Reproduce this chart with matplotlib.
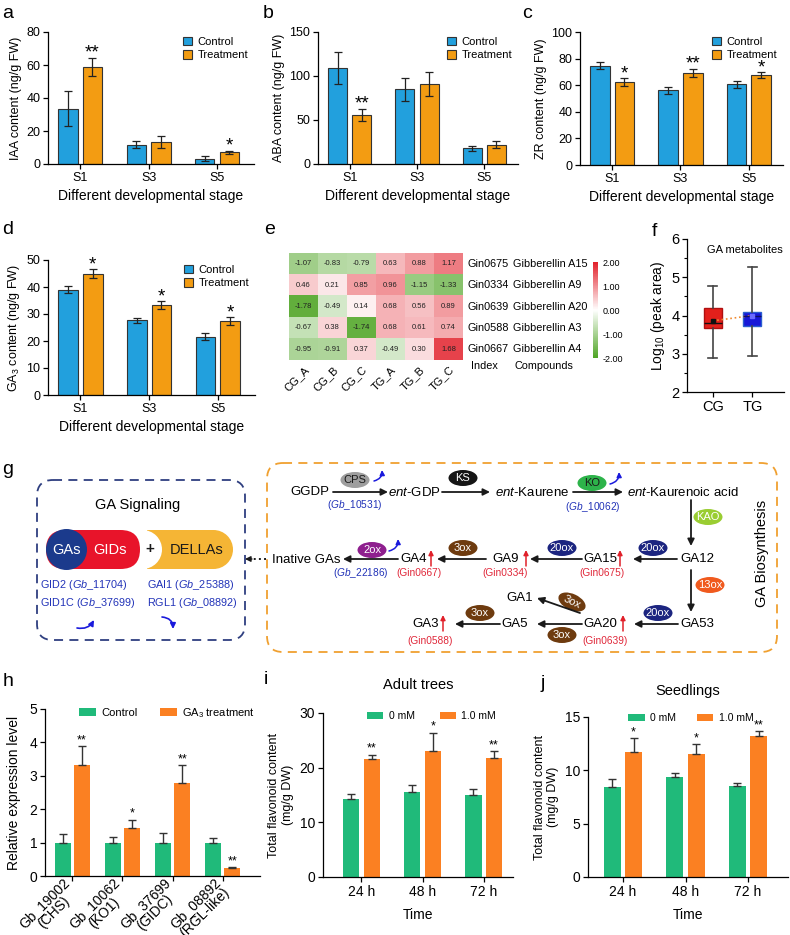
import numpy as np
import matplotlib
matplotlib.use('Agg')
import matplotlib.pyplot as plt
from matplotlib.patches import FancyBboxPatch, Ellipse, Circle, Rectangle
from matplotlib.colors import LinearSegmentedColormap

plt.rcParams['font.family'] = ['Liberation Sans', 'DejaVu Sans']
plt.rcParams['mathtext.fontset'] = 'custom'
plt.rcParams['mathtext.rm'] = 'Liberation Sans'
plt.rcParams['mathtext.it'] = 'Liberation Sans:italic'
plt.rcParams['mathtext.bf'] = 'Liberation Sans:bold'
plt.rcParams['axes.linewidth'] = 0.9

W, H = 790, 935

# ---------------- data ----------------
stages = ['S1', 'S3', 'S5']
iaa_ctrl = [33.6, 11.8, 3.3]
iaa_ctrl_err = [10.6, 2.2, 1.3]
iaa_trt = [59.0, 13.2, 7.0]
iaa_trt_err = [5.5, 3.7, 1.0]
iaa_sig = ['**', '', '*']

aba_ctrl = [109.0, 85.0, 17.8]
aba_ctrl_err = [18.0, 13.0, 2.7]
aba_trt = [56.0, 91.0, 22.0]
aba_trt_err = [7.0, 14.0, 3.8]
aba_sig = ['**', '', '']

zr_ctrl = [74.7, 56.2, 60.7]
zr_ctrl_err = [2.6, 2.5, 2.5]
zr_trt = [62.2, 69.2, 67.5]
zr_trt_err = [3.1, 3.1, 2.1]
zr_sig = ['*', '**', '*']

ga3_ctrl = [39.0, 27.6, 21.6]
ga3_ctrl_err = [1.2, 0.9, 1.3]
ga3_trt = [45.0, 33.3, 27.4]
ga3_trt_err = [1.5, 1.5, 1.5]
ga3_sig = ['*', '*', '*']

hm_cols = ['CG_A', 'CG_B', 'CG_C', 'TG_A', 'TG_B', 'TG_C']
hm_index = ['Gin0675', 'Gin0334', 'Gin0639', 'Gin0588', 'Gin0667']
hm_compounds = ['Gibberellin A15', 'Gibberellin A9', 'Gibberellin A20',
                'Gibberellin A3', 'Gibberellin A4']
hm_values = [[-1.07, -0.83, -0.79, 0.63, 0.88, 1.17],
             [0.46, 0.21, 0.85, 0.96, -1.15, -1.33],
             [-1.78, -0.49, 0.14, 0.68, 0.56, 0.89],
             [-0.67, 0.38, -1.74, 0.68, 0.61, 0.74],
             [-0.95, -0.91, 0.37, -0.49, 0.30, 1.68]]
cbar_ticks = [2, 1, 0, -1, -2]

box_groups = ['CG', 'TG']
box_whislo = [2.88, 2.93]
box_q1 = [3.68, 3.73]
box_med = [3.80, 4.00]
box_q3 = [4.20, 4.08]
box_whishi = [4.77, 5.28]
box_mean = [3.86, 4.00]

genes = ['Gb_19002\n(CHS)', 'Gb_10062\n(KO1)', 'Gb_37699\n(GIDC)', 'Gb_08892\n(RGL-like)']
gene_ctrl = [1.0, 1.0, 1.0, 1.0]
gene_ctrl_err = [0.25, 0.18, 0.28, 0.15]
gene_trt = [3.32, 1.43, 2.78, 0.25]
gene_trt_err = [0.56, 0.26, 0.54, 0.02]
gene_sig = ['**', '*', '**', '**']

times = ['24 h', '48 h', '72 h']
adult_0 = [14.2, 15.6, 15.0]
adult_0_err = [1.0, 1.3, 1.1]
adult_1 = [21.6, 23.0, 21.7]
adult_1_err = [0.8, 3.4, 1.3]
adult_sig = ['**', '*', '**']

seed_0 = [8.4, 9.35, 8.55]
seed_0_err = [0.75, 0.4, 0.25]
seed_1 = [11.75, 11.5, 13.2]
seed_1_err = [1.3, 0.95, 0.5]
seed_sig = ['*', '*', '**']

# ---------------- figure ----------------
fig = plt.figure(figsize=(W / 100, H / 100), dpi=100)


def px_axes(x0, y0, x1, y1):
    return fig.add_axes([x0 / W, 1 - y1 / H, (x1 - x0) / W, (y1 - y0) / H])


def style(ax, fs=9):
    for s in ['top', 'right']:
        ax.spines[s].set_visible(False)
    ax.tick_params(direction='out', labelsize=fs, length=3.5, width=0.9, pad=2)


C_BLUE = '#22a0dd'
C_ORANGE = '#f39c12'
C_GREEN = '#20ba7a'
C_ORG2 = '#fb8022'


def hormone_panel(ax, ctrl, ce, trt, te, sig, ylabel, ymax, step, xlim):
    x = np.arange(len(stages))
    w, off = 0.285, 0.18
    ekw = dict(elinewidth=0.9, capthick=0.9, ecolor='#222222')
    ax.bar(x - off, ctrl, w, yerr=ce, color=C_BLUE, edgecolor='#333333', lw=0.8,
           capsize=3, error_kw=ekw, label='Control')
    ax.bar(x + off, trt, w, yerr=te, color=C_ORANGE, edgecolor='#333333', lw=0.8,
           capsize=3, error_kw=ekw, label='Treatment')
    for xi, v, e, s in zip(x, trt, te, sig):
        if s:
            ax.annotate(s, (xi + off, v + e), xytext=(0, 0), textcoords='offset points',
                        ha='center', va='baseline', fontsize=13.5)
    ax.set_ylim(0, ymax)
    ax.set_yticks(np.arange(0, ymax + 0.1, step))
    ax.set_xlim(*xlim)
    ax.set_xticks(x)
    ax.set_xticklabels(stages)
    ax.set_ylabel(ylabel, fontsize=9, labelpad=3)
    ax.set_xlabel('Different developmental stage', fontsize=10, labelpad=4)
    style(ax)
    ax.legend(loc='upper right', bbox_to_anchor=(1.02, 1.04), frameon=False, fontsize=8,
              handlelength=0.8, handleheight=0.8, handletextpad=0.5, labelspacing=0.3)


ax_a = px_axes(48, 32, 254, 164)
hormone_panel(ax_a, iaa_ctrl, iaa_ctrl_err, iaa_trt, iaa_trt_err, iaa_sig,
              'IAA content (ng/g FW)', 80, 20, (-0.47, 2.54))
ax_b = px_axes(318, 32, 518, 164)
hormone_panel(ax_b, aba_ctrl, aba_ctrl_err, aba_trt, aba_trt_err, aba_sig,
              'ABA content (ng/g FW)', 150, 50, (-0.47, 2.5))
ax_c = px_axes(580, 32, 783, 165)
hormone_panel(ax_c, zr_ctrl, zr_ctrl_err, zr_trt, zr_trt_err, zr_sig,
              'ZR content (ng/g FW)', 100, 20, (-0.47, 2.5))
ax_d = px_axes(48, 260, 255, 395)
hormone_panel(ax_d, ga3_ctrl, ga3_ctrl_err, ga3_trt, ga3_trt_err, ga3_sig,
              'GA$_3$ content (ng/g FW)', 50, 10, (-0.47, 2.54))

# ---------------- heatmap e ----------------
cmap = LinearSegmentedColormap.from_list('gwr', ['#4fa525', '#ffffff', '#e2202a'])
ax_e = px_axes(289, 253, 463, 360)
vals = np.array(hm_values)
im = ax_e.imshow(vals, cmap=cmap, vmin=-2, vmax=2, aspect='auto')
for i in range(vals.shape[0]):
    for j in range(vals.shape[1]):
        ax_e.text(j, i, f'{vals[i, j]:.2f}', ha='center', va='center', fontsize=5.5,
                  color='#222222')
ax_e.set_xticks(range(len(hm_cols)))
ax_e.set_xticklabels(hm_cols, rotation=45, ha='right', rotation_mode='anchor', fontsize=8)
ax_e.set_yticks([])
ax_e.tick_params(length=0, pad=3)
for s in ax_e.spines.values():
    s.set_visible(False)
for i, (idx, comp) in enumerate(zip(hm_index, hm_compounds)):
    ax_e.text(5.64, i, idx, ha='left', va='center', fontsize=7.8)
    ax_e.text(7.22, i, comp, ha='left', va='center', fontsize=7.8)
ax_e.text(6.25, 4.8, 'Index', ha='center', va='center', fontsize=7.8)
ax_e.text(8.3, 4.8, 'Compounds', ha='center', va='center', fontsize=7.8)
cax = px_axes(593, 262, 598, 358)
cb = fig.colorbar(im, cax=cax, ticks=cbar_ticks, format='%.2f')
cb.outline.set_visible(False)
cax.tick_params(labelsize=6.5, length=0, pad=3)

# ---------------- box plot f ----------------
ax_f = px_axes(687, 239, 784, 392)
stats = []
for g, lo, q1, me, q3, hi, mn in zip(box_groups, box_whislo, box_q1, box_med, box_q3,
                                      box_whishi, box_mean):
    stats.append(dict(label=g, whislo=lo, q1=q1, med=me, q3=q3, whishi=hi, mean=mn))
bp = ax_f.bxp(stats, positions=[1, 2], widths=0.45, patch_artist=True, showmeans=True,
              showfliers=False,
              medianprops=dict(color='#111111', lw=1.0),
              meanprops=dict(marker='s', markersize=2.5, markerfacecolor='#111111',
                             markeredgecolor='#111111'),
              whiskerprops=dict(color='#444444', lw=1.2),
              capprops=dict(color='#444444', lw=1.2))
for patch, fc, ec in zip(bp['boxes'], ['#e3201b', '#1717d8'], ['#b01010', '#2a5fd0']):
    patch.set_facecolor(fc)
    patch.set_edgecolor(ec)
bp['means'][1].set_markerfacecolor('#6a6aff')
bp['means'][1].set_markeredgecolor('#6a6aff')
bp['medians'][1].set_color('#101060')
ax_f.plot([1, 2], box_mean, ls=':', color='#f08a30', lw=1.2)
ax_f.set_ylim(2, 6)
ax_f.set_yticks([2, 3, 4, 5, 6])
ax_f.set_yticks(np.arange(2.5, 6, 1), minor=True)
ax_f.set_xlim(0.35, 2.8)
ax_f.set_ylabel('Log$_{10}$ (peak area)', fontsize=10, labelpad=3)
style(ax_f, fs=10.5)
ax_f.tick_params(which='minor', length=2, width=0.8)
ax_f.text(0.6, 0.93, 'GA metabolites', transform=ax_f.transAxes, ha='center',
          va='center', fontsize=8)

# ---------------- h ----------------
ax_h = px_axes(45, 709, 260, 876)
xh = np.arange(len(genes))
w, off = 0.32, 0.19
ekw = dict(elinewidth=1.0, capthick=1.0, ecolor='#333333')
ax_h.bar(xh - off, gene_ctrl, w, yerr=[[0] * len(genes), gene_ctrl_err], color=C_GREEN,
         capsize=3, error_kw=ekw, label='Control')
ax_h.bar(xh + off, gene_trt, w, yerr=[[0] * len(genes), gene_trt_err], color=C_ORG2,
         capsize=3, error_kw=ekw, label='GA$_3$ treatment')
for xi, v, e, s in zip(xh, gene_trt, gene_trt_err, gene_sig):
    ax_h.annotate(s, (xi + off, v + e), xytext=(0, 2), textcoords='offset points',
                  ha='center', va='baseline', fontsize=9)
ax_h.set_ylim(0, 5)
ax_h.set_xlim(-0.54, 3.74)
ax_h.set_xticks(xh)
ax_h.set_xticklabels(genes, rotation=45, ha='right', va='center', rotation_mode='anchor',
                     fontsize=7.0, multialignment='center', linespacing=0.95)
ax_h.set_ylabel('Relative expression level', fontsize=10, labelpad=6)
style(ax_h, fs=10)
ax_h.tick_params(axis='x', pad=3)
ax_h.legend(loc='center left', bbox_to_anchor=(0.16, 0.975), ncol=2, frameon=False,
            fontsize=8, handlelength=1.5, handleheight=0.7, columnspacing=2.0,
            handletextpad=0.5, borderaxespad=0, borderpad=0)


def flav_panel(ax, v0, e0, v1, e1, sig, ymax, step, xlim, title, leg_x, leg_y, cs, tpad):
    x = np.arange(len(times))
    w, off = 0.27, 0.17
    ekw = dict(elinewidth=1.0, capthick=1.0, ecolor='#333333')
    ax.bar(x - off, v0, w, yerr=[[0] * len(x), e0], color=C_GREEN, capsize=3,
           error_kw=ekw, label='0 mM')
    ax.bar(x + off, v1, w, yerr=[[0] * len(x), e1], color=C_ORG2, capsize=3,
           error_kw=ekw, label='1.0 mM')
    for xi, v, e, s in zip(x, v1, e1, sig):
        ax.annotate(s, (xi + off, v + e), xytext=(0, 2), textcoords='offset points',
                    ha='center', va='baseline', fontsize=9)
    ax.set_ylim(0, ymax)
    ax.set_yticks(np.arange(0, ymax + 0.1, step))
    ax.set_xlim(*xlim)
    ax.set_xticks(x)
    ax.set_xticklabels(times)
    ax.set_xlabel('Time', fontsize=10, labelpad=7)
    ax.set_ylabel('Total flavonoid content\n(mg/g DW)', fontsize=9, labelpad=4)
    style(ax, fs=10)
    ax.set_title(title, fontsize=10.5, pad=tpad)
    ax.legend(loc='center left', bbox_to_anchor=(leg_x, leg_y), ncol=2, frameon=False,
              fontsize=7.5, handlelength=1.6, handleheight=0.7, columnspacing=cs,
              handletextpad=0.5, borderaxespad=0, borderpad=0)


ax_i = px_axes(323, 713, 513, 877)
flav_panel(ax_i, adult_0, adult_0_err, adult_1, adult_1_err, adult_sig, 30, 10,
           (-0.63, 2.48), 'Adult trees', 0.23, 0.98, 2.4, 17)
ax_j = px_axes(588, 717, 788, 877)
flav_panel(ax_j, seed_0, seed_0_err, seed_1, seed_1_err, seed_sig, 15, 5,
           (-0.56, 2.64), 'Seedlings', 0.2, 0.995, 2.0, 16)

# ---------------- overlay for g and panel letters ----------------
ov = fig.add_axes([0, 0, 1, 1])
ov.set_xlim(0, W)
ov.set_ylim(H, 0)
ov.axis('off')
ov.patch.set_visible(False)

for lab, x, y in [('a', 8, 13), ('b', 268, 13), ('c', 527, 13), ('d', 8, 230),
                  ('e', 270, 230), ('f', 654, 232), ('g', 8, 470), ('h', 8, 681),
                  ('i', 266, 679), ('j', 543, 683)]:
    ov.text(x, y, lab, fontsize=14, ha='center', va='center')

BLK = '#1a1a1a'
NAVY_T = '#2233b8'
RED_T = '#e0283a'


def arrow(x0, y0, x1, y1, color=BLK, lw=1.3, ms=10, style='-|>', rad=0.0):
    ov.annotate('', xy=(x1, y1), xytext=(x0, y0),
                arrowprops=dict(arrowstyle=style, color=color, lw=lw, mutation_scale=ms,
                                shrinkA=0, shrinkB=0,
                                connectionstyle=f'arc3,rad={rad}'))


def enzyme(x, y, txt, fc, tc='white', w=29, h=16, angle=0):
    ov.add_patch(Ellipse((x, y), w, h, angle=angle, fc=fc, ec='none'))
    ov.text(x, y, txt, color=tc, ha='center', va='center', fontsize=8, rotation=-angle)


# signaling box
ov.add_patch(FancyBboxPatch((37, 480), 208, 160, boxstyle='round,pad=0,rounding_size=16',
                            fill=False, ec='#2f3f80', lw=1.3, ls=(0, (5, 3.5))))
ov.text(138, 505, 'GA Signaling', ha='center', va='center', fontsize=10.5)
ov.add_patch(Rectangle((147, 530), 66.5, 39, fc='#f5b535', ec='none'))
ov.add_patch(Circle((213.5, 549.5), 19.5, fc='#f5b535', ec='none'))
ov.add_patch(Circle((142.5, 549.5), 19.5, fc='white', ec='none'))
ov.add_patch(FancyBboxPatch((46, 530), 94, 39, boxstyle='round,pad=0,rounding_size=19.5',
                            fc='#e8142a', ec='none'))
ov.add_patch(Circle((66.5, 549.5), 20.5, fc='#1b3a8c', ec='none'))
ov.text(66.5, 550, 'GAs', color='white', ha='center', va='center', fontsize=10.5)
ov.text(110, 550, 'GIDs', color='white', ha='center', va='center', fontsize=10.5)
ov.text(150, 549, '+', color=BLK, ha='center', va='center', fontsize=11,
        fontweight='bold')
ov.text(197, 550, 'DELLAs', color=BLK, ha='center', va='center', fontsize=10.5)
ov.text(40, 585, r'GID2 ($\it{Gb\_11704}$)', color=NAVY_T, ha='left', va='center',
        fontsize=7.8)
ov.text(40, 603, r'GID1C ($\it{Gb\_37699}$)', color=NAVY_T, ha='left', va='center',
        fontsize=7.8)
ov.text(147, 585, r'GAI1 ($\it{Gb\_25388}$)', color=NAVY_T, ha='left', va='center',
        fontsize=7.8)
ov.text(147, 603, r'RGL1 ($\it{Gb\_08892}$)', color=NAVY_T, ha='left', va='center',
        fontsize=7.8)
arrow(77, 628, 94, 620, color='#1a1adc', lw=1.2, ms=8, rad=0.35)
arrow(162, 617, 173, 629, color='#1a1adc', lw=1.2, ms=8, rad=-0.45)

# biosynthesis box
ov.add_patch(FancyBboxPatch((267, 463), 510, 189, boxstyle='round,pad=0,rounding_size=16',
                            fill=False, ec='#f0a030', lw=1.3, ls=(0, (5, 3.5))))
ov.plot([266, 250], [559, 559], ls=':', color=BLK, lw=1.4)
arrow(252, 559, 245, 559, lw=1.0, ms=8)
ov.text(762, 553, 'GA Biosynthesis', rotation=90, ha='center', va='center', fontsize=10.5)

FS = 9.5
ov.text(310, 492, 'GGDP', ha='center', va='center', fontsize=FS)
ov.text(414, 492, r'$\it{ent}$-GDP', ha='center', va='center', fontsize=FS)
ov.text(532, 492, r'$\it{ent}$-Kaurene', ha='center', va='center', fontsize=FS)
ov.text(683, 492, r'$\it{ent}$-Kaurenoic acid', ha='center', va='center', fontsize=FS)
ov.text(697, 559, 'GA12', ha='center', va='center', fontsize=FS)
ov.text(600, 559, 'GA15', ha='center', va='center', fontsize=FS)
ov.text(506, 559, 'GA9', ha='center', va='center', fontsize=FS)
ov.text(414, 559, 'GA4', ha='center', va='center', fontsize=FS)
ov.text(306, 560, 'Inative GAs', ha='center', va='center', fontsize=FS)
ov.text(697, 624, 'GA53', ha='center', va='center', fontsize=FS)
ov.text(600, 624, 'GA20', ha='center', va='center', fontsize=FS)
ov.text(515, 624, 'GA5', ha='center', va='center', fontsize=FS)
ov.text(520, 598, 'GA1', ha='center', va='center', fontsize=FS)
ov.text(426, 624, 'GA3', ha='center', va='center', fontsize=FS)

for x0, y0, x1, y1 in [(333, 492, 388, 492), (442, 492, 490, 492), (573, 492, 623, 492),
                       (691, 500, 691, 546), (677, 559, 633, 559), (582, 559, 530, 559),
                       (486, 559, 437, 559), (398, 559, 343, 559), (691, 570, 691, 612),
                       (678, 624, 634, 624), (582, 624, 537, 624), (580, 613, 537, 598),
                       (500, 624, 455, 624)]:
    arrow(x0, y0, x1, y1)

for x, y in [(620, 559), (526, 559), (431, 559), (623, 624), (443, 624)]:
    arrow(x, y + 7, x, y - 9, color='#e0202a', lw=1.1, ms=7)

for txt, x, y in [('(Gin0675)', 602, 573), ('(Gin0334)', 505, 573), ('(Gin0667)', 419, 573),
                  ('(Gin0639)', 605, 641), ('(Gin0588)', 430, 641)]:
    ov.text(x, y, txt, color=RED_T, ha='center', va='center', fontsize=7.3)
for txt, x, y in [(r'($\it{Gb\_10531}$)', 355, 505), (r'($\it{Gb\_10062}$)', 593, 507),
                  (r'($\it{Gb\_22186}$)', 361, 573)]:
    ov.text(x, y, txt, color=NAVY_T, ha='center', va='center', fontsize=7.3)

enzyme(355, 480, 'CPS', '#9e9e9e', tc=BLK)
enzyme(463, 478, 'KS', '#151515')
enzyme(592, 483, 'KO', '#2db34a', tc=BLK)
enzyme(708, 517, 'KAO', '#9acd32')
enzyme(653, 548, '20ox', '#1c2580')
enzyme(562, 548, '20ox', '#1c2580')
enzyme(658, 613, '20ox', '#1c2580')
enzyme(463, 548, '3ox', '#6e3b0f')
enzyme(480, 613, '3ox', '#6e3b0f')
enzyme(562, 635, '3ox', '#6e3b0f')
enzyme(572, 602, '3ox', '#6e3b0f', angle=25)
enzyme(372, 550, '2ox', '#8e1f8e')
enzyme(710, 585, '13ox', '#f05a1e')

arrow(374, 481, 382, 470, color='#1a1adc', lw=1.1, ms=7, rad=0.4)
arrow(610, 484, 619, 472, color='#1a1adc', lw=1.1, ms=7, rad=0.4)
arrow(389, 551, 398, 539, color='#1a1adc', lw=1.1, ms=7, rad=0.4)

fig.savefig('out.png', dpi=100)
